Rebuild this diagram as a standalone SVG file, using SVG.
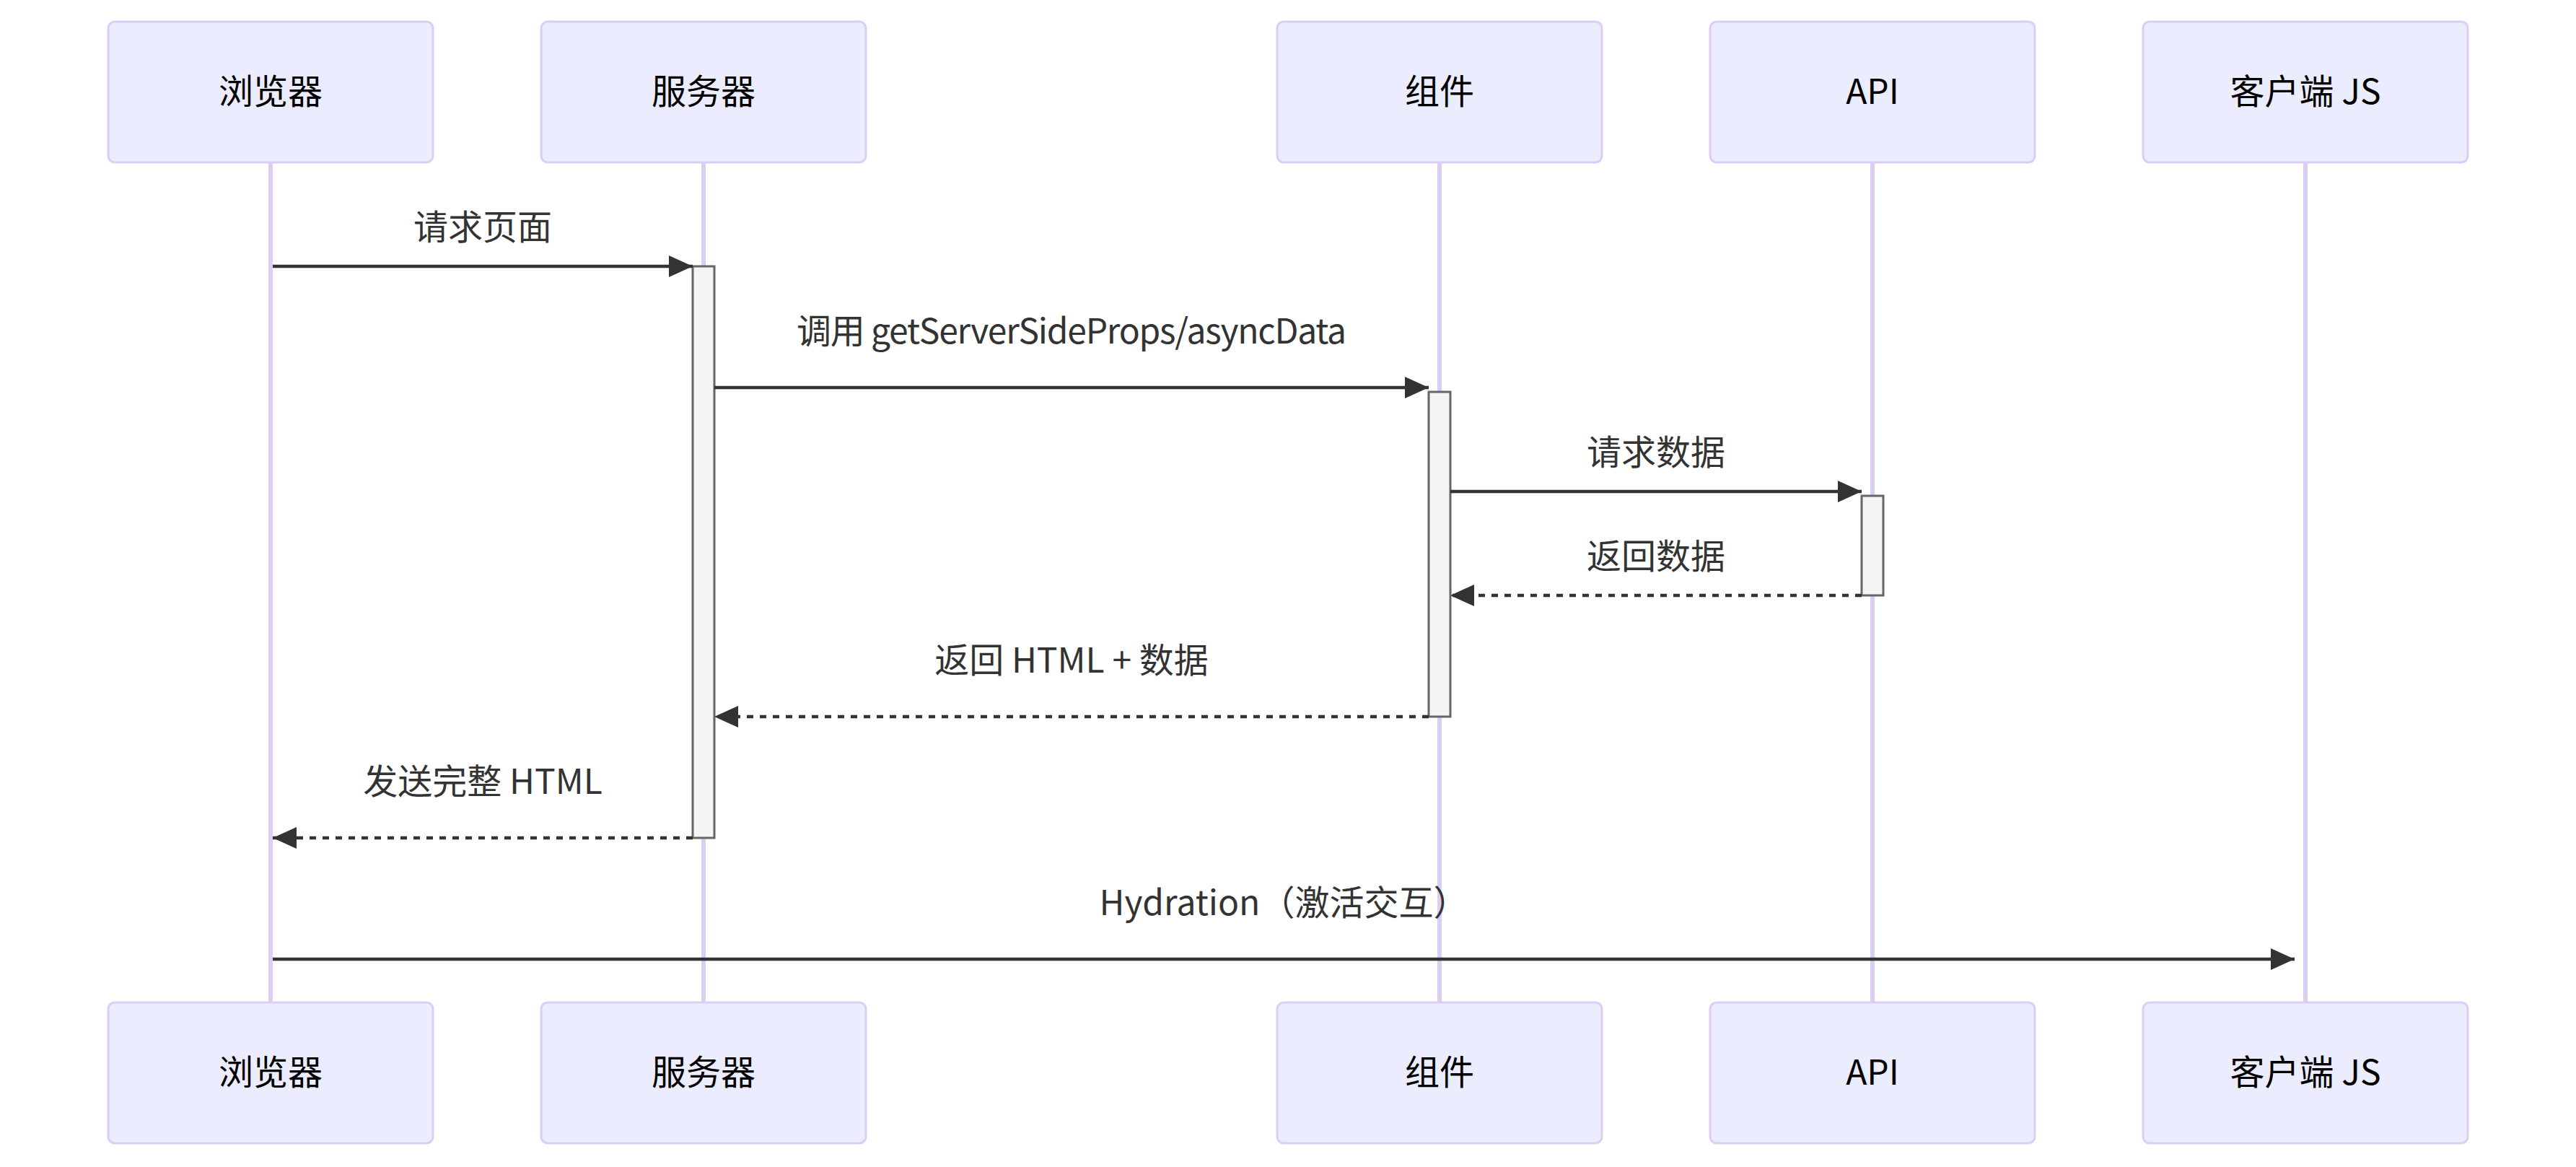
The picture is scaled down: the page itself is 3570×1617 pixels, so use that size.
<svg xmlns="http://www.w3.org/2000/svg" width="3570" height="1617" viewBox="0 0 3570 1617">
<style>
.actor{fill:#ECECFF;stroke:#DACEF3;stroke-width:1}
.atext{font-family:"Noto Sans CJK SC","Liberation Sans",sans-serif;font-size:16px;fill:#000;text-anchor:middle;dominant-baseline:central}
.life{stroke:#DACEF3;stroke-width:2}
.act{fill:#F4F4F4;stroke:#666;stroke-width:1}
.msg{stroke:#333;stroke-width:1.5;fill:none;marker-end:url(#ah)}
.dash{stroke-dasharray:3,3}
.mtext{font-family:"Noto Sans CJK SC","Liberation Sans",sans-serif;font-size:16px;fill:#333;text-anchor:middle;dominant-baseline:central}
</style>
<defs>
<marker id="ah" viewBox="0 0 11 10" refX="11" refY="5" markerWidth="11" markerHeight="10" markerUnits="userSpaceOnUse" orient="auto">
<path d="M0,0 L11,5 L0,10 z" fill="#333"/>
</marker>
</defs>
<rect width="3570" height="1617" fill="#fff"/>
<g transform="scale(3)">
<g id="browser">
<line class="life" x1="125" y1="75" x2="125" y2="463"/>
<rect class="actor" x="50" y="10" width="150" height="65" rx="3"/>
<text class="atext" x="125" y="41">浏览器</text>
<rect class="actor" x="50" y="463" width="150" height="65" rx="3"/>
<text class="atext" x="125" y="494">浏览器</text>
</g>
<g id="server">
<line class="life" x1="325" y1="75" x2="325" y2="463"/>
<rect class="actor" x="250" y="10" width="150" height="65" rx="3"/>
<text class="atext" x="325" y="41">服务器</text>
<rect class="actor" x="250" y="463" width="150" height="65" rx="3"/>
<text class="atext" x="325" y="494">服务器</text>
</g>
<g id="component">
<line class="life" x1="665" y1="75" x2="665" y2="463"/>
<rect class="actor" x="590" y="10" width="150" height="65" rx="3"/>
<text class="atext" x="665" y="41">组件</text>
<rect class="actor" x="590" y="463" width="150" height="65" rx="3"/>
<text class="atext" x="665" y="494">组件</text>
</g>
<g id="api">
<line class="life" x1="865" y1="75" x2="865" y2="463"/>
<rect class="actor" x="790" y="10" width="150" height="65" rx="3"/>
<text class="atext" x="865" y="41">API</text>
<rect class="actor" x="790" y="463" width="150" height="65" rx="3"/>
<text class="atext" x="865" y="494">API</text>
</g>
<g id="clientjs">
<line class="life" x1="1065" y1="75" x2="1065" y2="463"/>
<rect class="actor" x="990" y="10" width="150" height="65" rx="3"/>
<text class="atext" x="1065" y="41">客户端 JS</text>
<rect class="actor" x="990" y="463" width="150" height="65" rx="3"/>
<text class="atext" x="1065" y="494">客户端 JS</text>
</g>
<g id="activation-server"><rect class="act" x="320" y="123" width="10" height="264"/></g>
<g id="activation-component"><rect class="act" x="660" y="181" width="10" height="150"/></g>
<g id="activation-api"><rect class="act" x="860" y="229" width="10" height="46"/></g>
<g id="connectors">
<line class="msg" x1="126" y1="123" x2="320" y2="123"/>
<text class="mtext" x="223" y="103.5">请求页面</text>
<line class="msg" x1="330" y1="179" x2="660" y2="179"/>
<text class="mtext" x="495" y="151.5" textLength="254" lengthAdjust="spacing">调用 getServerSideProps/asyncData</text>
<line class="msg" x1="670" y1="227" x2="860" y2="227"/>
<text class="mtext" x="765" y="207.5">请求数据</text>
<line class="msg dash" x1="860" y1="275" x2="670" y2="275"/>
<text class="mtext" x="765" y="255.5">返回数据</text>
<line class="msg dash" x1="660" y1="331" x2="330" y2="331"/>
<text class="mtext" x="495" y="303.5">返回 HTML + 数据</text>
<line class="msg dash" x1="320" y1="387" x2="126" y2="387"/>
<text class="mtext" x="223" y="359.5">发送完整 HTML</text>
<line class="msg" x1="126" y1="443" x2="1060" y2="443"/>
<text class="mtext" x="593" y="415.5">Hydration（激活交互）</text>
</g>
</g>
</svg>
